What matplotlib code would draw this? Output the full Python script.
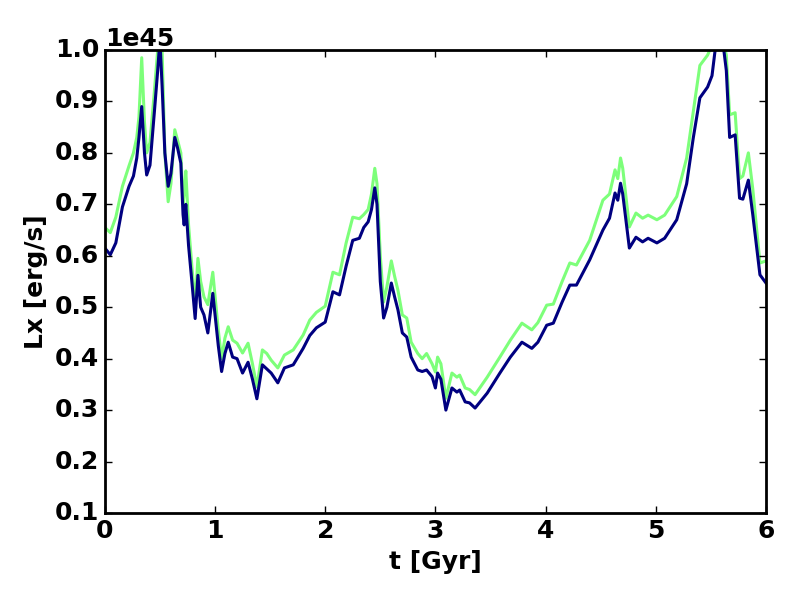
import numpy as np
import matplotlib
matplotlib.use("Agg")
import matplotlib.pyplot as plt

# ------------------------------------------
# Dados (Lx em unidades de 1e45 erg/s)
# ------------------------------------------
t_gyr = [0.00, 0.05, 0.10, 0.16, 0.22, 0.26, 0.29, 0.31, 0.335, 0.36,
         0.38, 0.41, 0.45, 0.48, 0.50, 0.52, 0.545, 0.575, 0.60, 0.635,
         0.66, 0.69, 0.71, 0.72, 0.735, 0.76, 0.79, 0.82, 0.845, 0.87,
         0.90, 0.935, 0.98, 1.03, 1.06, 1.09, 1.12, 1.16, 1.20, 1.25,
         1.30, 1.34, 1.38, 1.43, 1.47, 1.51, 1.57, 1.63, 1.71, 1.80,
         1.86, 1.92, 2.00, 2.07, 2.13, 2.19, 2.25, 2.31, 2.35, 2.39,
         2.42, 2.45, 2.47, 2.50, 2.53, 2.56, 2.60, 2.63, 2.66, 2.70,
         2.74, 2.78, 2.84, 2.88, 2.92, 2.97, 3.00, 3.02, 3.05, 3.095,
         3.15, 3.195, 3.22, 3.27, 3.31, 3.36, 3.47, 3.585, 3.68, 3.785,
         3.875, 3.93, 4.01, 4.07, 4.15, 4.22, 4.28, 4.40, 4.52, 4.58,
         4.63, 4.655, 4.68, 4.70, 4.76, 4.82, 4.88, 4.93, 5.01, 5.08,
         5.19, 5.28, 5.34, 5.40, 5.47, 5.51, 5.55, 5.60, 5.64, 5.67,
         5.72, 5.76, 5.79, 5.84, 5.88, 5.945, 6.00]

lx_azul = [0.615, 0.602, 0.625, 0.695, 0.735, 0.755, 0.79, 0.83, 0.89, 0.80,
           0.757, 0.776, 0.88, 0.96, 1.02, 0.93, 0.80, 0.735, 0.76, 0.83,
           0.81, 0.78, 0.68, 0.66, 0.70, 0.62, 0.55, 0.478, 0.562, 0.50,
           0.485, 0.45, 0.527, 0.425, 0.375, 0.41, 0.432, 0.403, 0.40, 0.372,
           0.393, 0.36, 0.322, 0.388, 0.38, 0.372, 0.353, 0.382, 0.388, 0.42,
           0.445, 0.46, 0.471, 0.53, 0.524, 0.58, 0.63, 0.634, 0.655, 0.666,
           0.69, 0.732, 0.70, 0.55, 0.479, 0.50, 0.547, 0.52, 0.495, 0.45,
           0.442, 0.403, 0.378, 0.375, 0.378, 0.365, 0.343, 0.372, 0.36, 0.30,
           0.343, 0.335, 0.339, 0.316, 0.314, 0.304, 0.333, 0.372, 0.403, 0.432,
           0.42, 0.432, 0.465, 0.469, 0.51, 0.543, 0.543, 0.592, 0.65, 0.673,
           0.722, 0.708, 0.741, 0.72, 0.615, 0.636, 0.627, 0.634, 0.625, 0.634,
           0.67, 0.74, 0.829, 0.907, 0.928, 0.95, 1.02, 1.03, 0.96, 0.83,
           0.835, 0.712, 0.71, 0.747, 0.68, 0.563, 0.547]

lx_verde = [0.655, 0.645, 0.675, 0.735, 0.775, 0.80, 0.83, 0.87, 0.985, 0.86,
            0.80, 0.82, 0.92, 1.0, 1.03, 1.0, 0.80, 0.705, 0.74, 0.845,
            0.825, 0.80, 0.70, 0.72, 0.765, 0.66, 0.58, 0.505, 0.595, 0.55,
            0.52, 0.505, 0.568, 0.455, 0.40, 0.44, 0.462, 0.436, 0.43, 0.411,
            0.43, 0.39, 0.345, 0.417, 0.41, 0.397, 0.382, 0.407, 0.417, 0.446,
            0.475, 0.49, 0.502, 0.568, 0.563, 0.625, 0.675, 0.672, 0.68, 0.69,
            0.72, 0.77, 0.74, 0.60, 0.51, 0.54, 0.59, 0.56, 0.533, 0.485,
            0.479, 0.432, 0.41, 0.40, 0.41, 0.39, 0.374, 0.403, 0.39, 0.323,
            0.372, 0.364, 0.368, 0.343, 0.34, 0.33, 0.364, 0.403, 0.436, 0.469,
            0.456, 0.47, 0.504, 0.506, 0.55, 0.586, 0.582, 0.63, 0.708, 0.72,
            0.767, 0.75, 0.79, 0.77, 0.656, 0.683, 0.673, 0.679, 0.67, 0.679,
            0.715, 0.79, 0.88, 0.97, 0.99, 1.01, 1.03, 1.03, 0.99, 0.874,
            0.878, 0.75, 0.755, 0.80, 0.73, 0.586, 0.59]

t = np.array(t_gyr)
azul = np.array(lx_azul) * 1e45
verde = np.array(lx_verde) * 1e45

# ------------------------------------------
# Estilo "classic" do matplotlib
# ------------------------------------------
plt.style.use("classic")
plt.rcParams.update({
    "figure.facecolor": "white",
    "savefig.facecolor": "white",
    "font.family": "DejaVu Sans",
    "font.size": 18,
    "font.weight": "bold",
    "axes.labelweight": "bold",
    "axes.labelsize": 18,
    "axes.linewidth": 2,
    "xtick.labelsize": 18,
    "ytick.labelsize": 18,
    "xtick.major.size": 5,
    "ytick.major.size": 5,
    "xtick.major.width": 1,
    "ytick.major.width": 1,
})

fig = plt.figure(figsize=(8, 6), dpi=100)
ax = fig.add_axes([0.131, 0.145, 0.8265, 0.7717])

ax.plot(t, verde, color="#7dff7a", linewidth=2.2)
ax.plot(t, azul, color="#000080", linewidth=2.2)

ax.set_xlim(0, 6)
ax.set_ylim(0.1e45, 1.0e45)
ax.set_yticks(np.arange(1, 11) * 0.1e45)
ax.set_xlabel("t [Gyr]")
ax.set_ylabel("Lx [erg/s]")
ax.yaxis.get_offset_text().set_fontsize(18)
ax.yaxis.get_offset_text().set_fontweight("bold")

plt.savefig("out.png", dpi=100)
